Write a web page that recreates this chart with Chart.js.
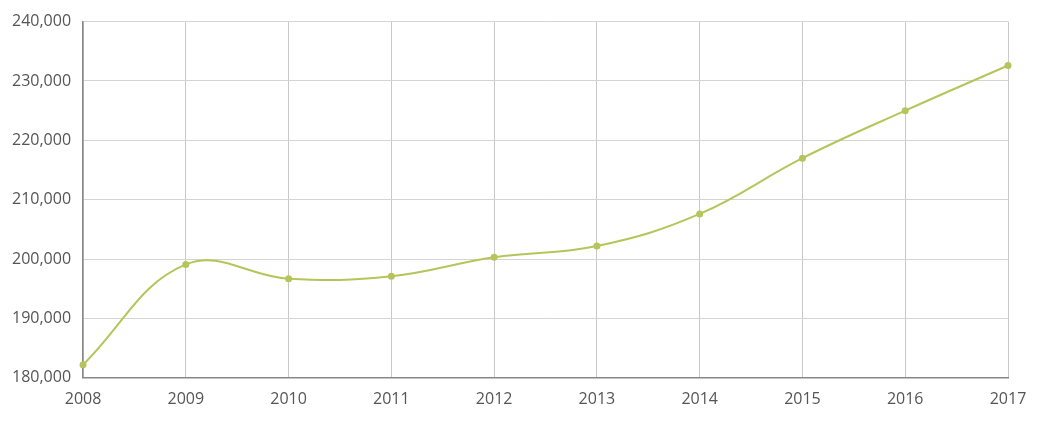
<!DOCTYPE html>
<html><head><meta charset="utf-8">
<script src="https://cdn.jsdelivr.net/npm/chart.js@4"></script>
<style>html,body{margin:0;padding:0;background:#fff}#w{width:1046px;height:421px}</style>
</head><body><div id="w"><canvas id="c"></canvas></div>
<script>
const years = ['2008','2009','2010','2011','2012','2013','2014','2015','2016','2017'];
const population = [182200,199100,196700,197100,200300,202200,207600,217000,225000,232600];
new Chart(document.getElementById('c'), {
  type: 'line',
  data: { labels: years, datasets: [{ data: population, borderColor: '#b5c55a', backgroundColor: '#b5c55a',
    borderWidth: 2, pointRadius: 3.5, pointBorderWidth: 0, tension: 0.4, fill: false }] },
  options: {
    responsive: true, maintainAspectRatio: false, animation: false,
    layout: { padding: { top: -1, right: 38, left: 0, bottom: 0 } },
    plugins: { legend: { display: false }, tooltip: { enabled: false } },
    scales: {
      x: { offset: false, grid: { color: '#c8c8c8', drawTicks: false }, border: { color: '#888', width: 1.5 },
        ticks: { color: '#555', font: { family: 'Open Sans', size: 16 }, padding: 12, maxRotation: 0 } },
      y: { min: 180000, max: 240000, grid: { color: '#d4d4d4', drawTicks: false }, border: { color: '#888', width: 1.5 },
        ticks: { stepSize: 10000, color: '#555', font: { family: 'Open Sans', size: 16 }, padding: 12,
          callback: v => v.toLocaleString('en-US') } }
    }
  }
});
</script></body></html>
